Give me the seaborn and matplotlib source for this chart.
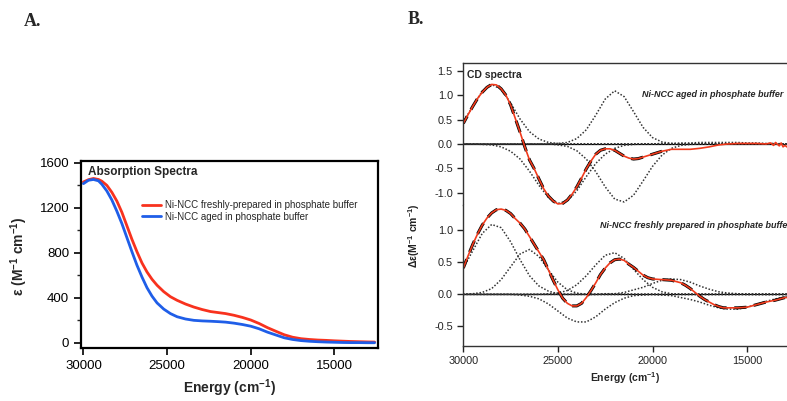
import numpy as np
import pandas as pd
import seaborn as sns
import matplotlib.pyplot as plt
from matplotlib.ticker import MultipleLocator

# ==============================
# DATA - panel A (absorption)
# ==============================
abs_energy = [30000, 29700, 29400, 29100, 28900, 28600, 28300, 28000, 27700, 27400,
              27100, 26800, 26500, 26200, 25900, 25600, 25200, 24800, 24400, 23900,
              23400, 22900, 22400, 21900, 21500, 21000, 20500, 20000, 19500, 19000,
              18500, 18000, 17500, 17000, 16500, 16000, 15500, 15000, 14500, 14000,
              13500, 13000, 12600]
abs_fresh = [1430, 1450, 1461, 1452, 1437, 1400, 1338, 1260, 1160, 1040,
             920, 810, 710, 630, 565, 512, 455, 410, 378, 345,
             318, 296, 278, 268, 260, 245, 226, 203, 172, 135,
             103, 72, 50, 37, 30, 25, 22, 18, 15, 12,
             10, 8, 7]
abs_aged = [1415, 1445, 1452, 1440, 1410, 1350, 1270, 1170, 1060, 935,
            810, 690, 585, 490, 415, 355, 300, 260, 232, 212,
            200, 195, 192, 188, 184, 175, 163, 148, 125, 95,
            70, 45, 30, 20, 14, 10, 7, 5, 3, 2,
            2, 1, 1]

# ==============================
# DATA - panel B (CD spectra)
# ==============================
cd_grid = [30000, 29500, 29000, 28500, 28000, 27500, 27000, 26500, 26000, 25500,
           25000, 24500, 24000, 23500, 23000, 22500, 22000, 21500, 21000, 20500,
           20000, 19500, 19000, 18500, 18000, 17500, 17000, 16500, 16000, 15500,
           15000, 14500, 14000, 13500, 13000, 12900]

# aged sample: gaussian components
aged_c1 = [0.45, 0.77, 1.08, 1.22, 1.12, 0.84, 0.51, 0.25, 0.10, 0.03, 0.01] + [0] * 25
aged_c2 = [0, 0, -0.01, -0.02, -0.06, -0.15, -0.31, -0.56, -0.85, -1.10,
           -1.22, -1.17, -0.96, -0.67, -0.40, -0.21, -0.09, -0.03, -0.01] + [0] * 17
aged_c3 = [0] * 10 + [0.01, 0.03, 0.11, 0.29, 0.59, 0.92, 1.09, 0.97, 0.66, 0.34,
                      0.13, 0.04, 0.01] + [0] * 13
aged_c4 = [0] * 10 + [-0.02, -0.05, -0.14, -0.31, -0.57, -0.88, -1.13, -1.19, -1.05, -0.76,
                      -0.46, -0.23, -0.09, -0.03, -0.01] + [0] * 11
aged_c5 = [0] * 20 + [0, 0.01, 0.01, 0.02, 0.02, 0.03, 0.03, 0.03, 0.03, 0.03,
                      0.02, 0.02, 0.01, 0.01, 0, 0]

# fresh sample: gaussian components
fresh_c1 = [0.41, 0.68, 0.95, 1.09, 1.04, 0.82, 0.54, 0.29, 0.13, 0.05, 0.01] + [0] * 25
fresh_c2 = [0, 0.01, 0.03, 0.09, 0.23, 0.43, 0.63, 0.70, 0.59, 0.38, 0.19, 0.07, 0.02] + [0] * 23
fresh_c3 = [0] * 6 + [-0.01, -0.03, -0.07, -0.15, -0.26, -0.37, -0.43, -0.43, -0.35, -0.23,
                      -0.13, -0.06, -0.02, -0.01] + [0] * 16
fresh_c4 = [0] * 9 + [0.01, 0.02, 0.06, 0.15, 0.29, 0.46, 0.61, 0.65, 0.56, 0.39,
                      0.23, 0.11, 0.04, 0.01] + [0] * 13
fresh_c5 = [0] * 15 + [0.01, 0.01, 0.03, 0.07, 0.11, 0.17, 0.22, 0.24, 0.23, 0.19,
                       0.13, 0.08, 0.04, 0.02, 0.01] + [0] * 6
fresh_c6 = [0] * 21 + [-0.01, -0.02, -0.05, -0.08, -0.12, -0.17, -0.21, -0.23, -0.23, -0.20,
                       -0.16, -0.11, -0.07, -0.04, -0.04]

# measured CD (red) and fit (black dashed)
aged_energy = [30000, 29750, 29500, 29250, 29000, 28750, 28500, 28250, 28000, 27750,
               27500, 27250, 27000, 26750, 26500, 26250, 26000, 25750, 25500, 25250,
               25000, 24750, 24500, 24250, 24000, 23750, 23500, 23250, 23000, 22750,
               22500, 22250, 22000, 21750, 21500, 21250, 21000, 20750, 20500, 20000,
               19500, 19000, 18500, 18000, 17500, 17000, 16500, 16000, 15500, 15000,
               14500, 14000, 13750, 13600, 13500, 13300, 13200, 13100, 13000, 12900]
aged_cd = [0.42, 0.60, 0.77, 0.93, 1.06, 1.16, 1.22, 1.21, 1.13, 1.00,
           0.80, 0.52, 0.24, -0.06, -0.33, -0.51, -0.72, -0.92, -1.07, -1.17,
           -1.23, -1.22, -1.15, -1.03, -0.88, -0.70, -0.51, -0.35, -0.21, -0.13,
           -0.10, -0.10, -0.13, -0.19, -0.25, -0.29, -0.31, -0.30, -0.27, -0.21,
           -0.15, -0.11, -0.11, -0.11, -0.09, -0.06, -0.02, 0.0, 0.01, 0.01,
           0.01, 0.0, 0.02, -0.03, 0.03, -0.04, 0.02, -0.06, -0.03, -0.06]
aged_fit_n = 41  # fit covers 30000 -> 19500

fresh_energy = [30000, 29750, 29500, 29250, 29000, 28750, 28500, 28250, 28000, 27750,
                27500, 27250, 27000, 26750, 26500, 26250, 26000, 25750, 25500, 25250,
                25000, 24750, 24500, 24250, 24000, 23750, 23500, 23250, 23000, 22750,
                22500, 22250, 22000, 21750, 21500, 21250, 21000, 20750, 20500, 20250,
                20000, 19500, 19000, 18750, 18500, 18250, 18000, 17750, 17500, 17250,
                17000, 16750, 16500, 16250, 16000, 15500, 15000, 14500, 14000, 13500,
                13000, 12900]
fresh_cd = [0.41, 0.60, 0.78, 0.94, 1.08, 1.19, 1.27, 1.32, 1.33, 1.31,
            1.26, 1.18, 1.11, 1.02, 0.90, 0.78, 0.66, 0.54, 0.38, 0.22,
            0.07, -0.06, -0.14, -0.18, -0.18, -0.14, -0.05, 0.06, 0.18, 0.31,
            0.41, 0.49, 0.54, 0.55, 0.53, 0.47, 0.42, 0.36, 0.30, 0.26,
            0.24, 0.23, 0.22, 0.20, 0.18, 0.14, 0.09, 0.03, -0.03, -0.08,
            -0.12, -0.16, -0.19, -0.21, -0.21, -0.21, -0.20, -0.16, -0.12, -0.09,
            -0.05, -0.05]
fresh_fit_n = 61  # fit covers 30000 -> 13000

# ==============================
# STYLE
# ==============================
sns.set_style("ticks")
plt.rcParams['font.family'] = ['Liberation Sans', 'DejaVu Sans']
plt.rcParams['mathtext.fontset'] = 'custom'
plt.rcParams['mathtext.rm'] = 'Liberation Sans'
plt.rcParams['mathtext.bf'] = 'Liberation Sans:bold'
plt.rcParams['mathtext.it'] = 'Liberation Sans:italic'

fig = plt.figure(figsize=(7.87, 4.01), dpi=100)

# ==============================
# PANEL A
# ==============================
axA = fig.add_axes([0.103, 0.131, 0.377, 0.468])
dfA = pd.DataFrame({'E': abs_energy, 'fresh': abs_fresh, 'aged': abs_aged})
sns.lineplot(data=dfA, x='E', y='fresh', ax=axA, color='#f8321e', lw=2,
             estimator=None, label='Ni-NCC freshly-prepared in phosphate buffer')
sns.lineplot(data=dfA, x='E', y='aged', ax=axA, color='#1f5ee8', lw=2,
             estimator=None, label='Ni-NCC aged in phosphate buffer')
axA.set_xlim(30140, 12410)
axA.set_ylim(-50, 1618)
axA.set_xticks([30000, 25000, 20000, 15000])
axA.set_yticks([0, 400, 800, 1200, 1600])
axA.yaxis.set_minor_locator(MultipleLocator(200))
axA.tick_params(axis='both', which='major', direction='out', length=5, width=1.2,
                labelsize=9.5, colors='black')
axA.tick_params(axis='y', which='minor', direction='out', length=3, width=1)
for s in axA.spines.values():
    s.set_visible(True)
    s.set_color('black')
    s.set_linewidth(1.6)
axA.set_xlabel(r'Energy (cm$^{\mathbf{-1}}$)', fontsize=10, fontweight='bold', labelpad=4)
axA.set_ylabel('')
fig.text(0.024, 0.36, r'ε (M$^{\mathbf{-1}}$ cm$^{\mathbf{-1}}$)', rotation=90,
         fontsize=10, fontweight='bold', ha='center', va='center')
axA.text(0.024, 0.94, 'Absorption Spectra', transform=axA.transAxes,
         fontsize=8.5, fontweight='bold', va='center', ha='left')
axA.legend(loc='upper left', bbox_to_anchor=(0.205, 0.79), frameon=False,
           fontsize=7, handlelength=2.0, handletextpad=0.4, labelspacing=0.15,
           borderaxespad=0, borderpad=0)

fig.text(0.03, 0.935, 'A.', family='Liberation Serif', fontweight='bold', fontsize=13)
fig.text(0.518, 0.94, 'B.', family='Liberation Serif', fontweight='bold', fontsize=13)

# ==============================
# PANEL B
# ==============================
axT = fig.add_axes([0.5887, 0.489, 0.4113, 0.354])
axB = fig.add_axes([0.5887, 0.138, 0.4113, 0.351])

dot_kw = dict(color='#333333', lw=1.1, linestyle=(0, (1, 1.2)), estimator=None)


def draw_cd(ax, comps, energy, cd, fit_n):
    comp_df = pd.DataFrame({'E': cd_grid})
    for i, c in enumerate(comps):
        comp_df[f'c{i}'] = c
        sns.lineplot(data=comp_df, x='E', y=f'c{i}', ax=ax, **dot_kw)
    ax.axhline(0, color='black', lw=0.9, zorder=1)
    d = pd.DataFrame({'E': energy, 'cd': cd})
    sns.lineplot(data=d.iloc[:fit_n], x='E', y='cd', ax=ax, color='black', lw=2.2,
                 linestyle=(0, (4, 2.5)), estimator=None)
    sns.lineplot(data=d, x='E', y='cd', ax=ax, color='#f03a1c', lw=1.2, estimator=None)
    ax.set_xlim(30000, 12892)
    ax.set_xlabel('')
    ax.set_ylabel('')


draw_cd(axT, [aged_c1, aged_c2, aged_c3, aged_c4, aged_c5], aged_energy, aged_cd, aged_fit_n)
draw_cd(axB, [fresh_c1, fresh_c2, fresh_c3, fresh_c4, fresh_c5, fresh_c6],
        fresh_energy, fresh_cd, fresh_fit_n)

axT.set_ylim(-1.25, 1.66)
axT.set_yticks([-1.0, -0.5, 0.0, 0.5, 1.0, 1.5])
axB.set_ylim(-0.80, 1.395)
axB.set_yticks([-0.5, 0.0, 0.5, 1.0])
axB.set_xticks([30000, 25000, 20000, 15000])
axT.set_xticks([])

for ax in (axT, axB):
    ax.yaxis.set_major_formatter(plt.FuncFormatter(lambda v, p: f'{v:.1f}'))
    ax.tick_params(axis='both', direction='out', length=4, width=1, labelsize=7.8, colors='#222222')
    ax.spines['right'].set_visible(False)
    for s in ax.spines.values():
        s.set_color('#333333')
        s.set_linewidth(1)
axT.spines['bottom'].set_visible(False)
axB.spines['top'].set_visible(False)

axT.text(0.011, 0.915, 'CD spectra', transform=axT.transAxes, fontsize=7.5,
         fontweight='bold', va='center')
axT.text(0.552, 0.78, 'Ni-NCC aged in phosphate buffer', transform=axT.transAxes,
         fontsize=6.5, fontweight='bold', style='italic', va='center')
# the reference crops this label at the right edge of the figure
axB.text(0.422, 0.851, 'Ni-NCC freshly prepared in phosphate buffer', transform=axB.transAxes,
         fontsize=6.5, fontweight='bold', style='italic', va='center', clip_on=False)
axB.set_xlabel(r'Energy (cm$^{\mathbf{-1}}$)', fontsize=7.5, fontweight='bold', labelpad=3)
fig.text(0.526, 0.411, r'Δε(M$^{\mathbf{-1}}$ cm$^{\mathbf{-1}}$)', rotation=90, fontsize=7.5,
         fontweight='bold', ha='center', va='center', color='#222222')

fig.savefig('out.png', dpi=100)
